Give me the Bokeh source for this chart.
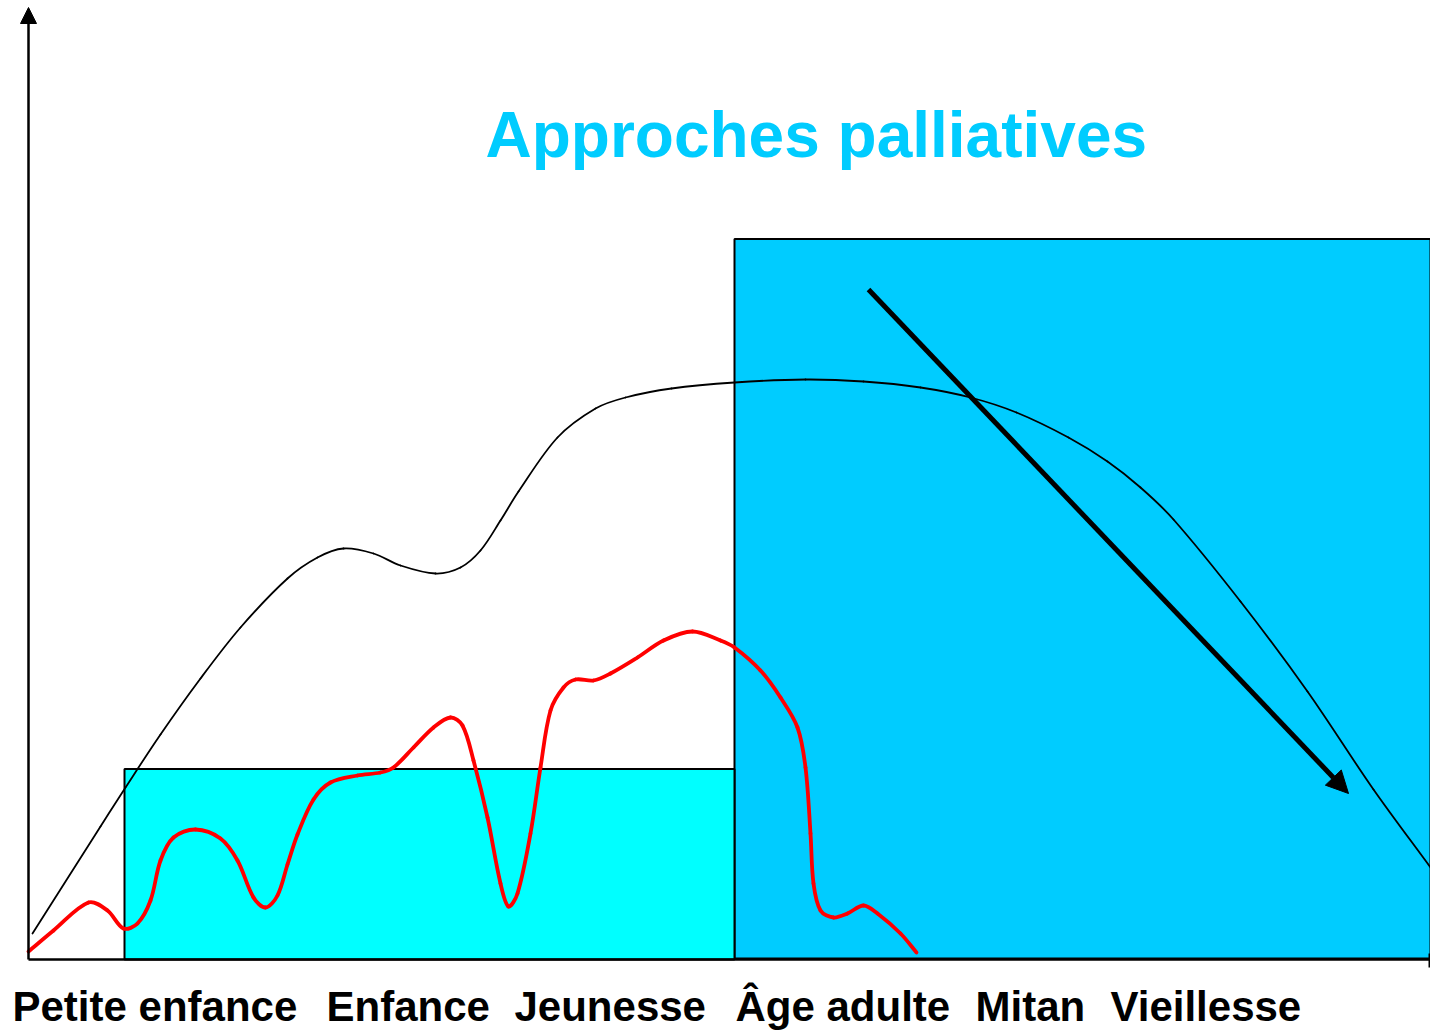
import math
from bokeh.plotting import figure
from bokeh.models import Range1d, Arrow, NormalHead
from bokeh.core.properties import value
from bokeh.embed import file_html
from bokeh.resources import INLINE

# ---- data (x: distance along life axis, y: level above the baseline) ----
stage_labels = ["Petite enfance", "Enfance", "Jeunesse", "Âge adulte", "Mitan", "Vieillesse"]
stage_label_x = [-16, 298, 486, 707, 947, 1082]

title_text = "Approches palliatives"

black_x = [4, 72, 97, 132, 172, 212, 259, 289, 315, 345, 372, 407, 432, 452, 472, 490,
           529, 567, 597, 643, 706, 777, 835, 892, 942, 988, 1040, 1079, 1112, 1145, 1212,
           1279, 1345, 1402]
black_y = [26, 133, 172, 225, 281, 332, 381, 402, 411, 406, 394, 386, 392, 409, 439, 468,
           522, 551, 562, 571, 577, 580, 578, 572, 562, 547, 522, 498, 472, 440, 358,
           268, 170, 92]

red_x = [0, 25, 60, 79, 95, 109, 122, 132, 145, 167, 192, 209, 225, 237, 249, 259, 269,
         285, 302, 329, 352, 365, 385, 405, 422, 434, 445, 459, 472, 480, 489, 502, 512,
         522, 535, 547, 565, 582, 609, 635, 664, 692, 706, 732, 752, 769, 777, 782, 785,
         792, 805, 819, 835, 849, 872, 888]
red_y = [8, 29, 57, 49, 31, 36, 59, 99, 122, 130, 121, 99, 62, 52, 64, 95, 125,
         160, 177, 184, 187, 192, 212, 232, 242, 234, 199, 142, 76, 53, 66, 126, 192,
         249, 272, 280, 279, 286, 302, 319, 328, 319, 312, 289, 262, 232, 192, 126, 76,
         49, 42, 46, 54, 46, 26, 7]

# zones: [left, right, bottom, top]
zone_curative = [96, 706, 0, 190.5]
zone_palliative = [706, 1402, 1, 720.5]

trend_start = [840, 670]
trend_end = [1320, 166]

axis_x_end = 1402
axis_y_end = 952


def smooth_segments(xs, ys):
    """Chord-length Catmull-Rom control points for Bokeh's bezier glyph."""
    n = len(xs)
    d = [math.hypot(xs[i + 1] - xs[i], ys[i + 1] - ys[i]) for i in range(n - 1)]
    tx, ty = [], []
    for i in range(n):
        if i == 0:
            tx.append((xs[1] - xs[0]) / d[0]); ty.append((ys[1] - ys[0]) / d[0])
        elif i == n - 1:
            tx.append((xs[-1] - xs[-2]) / d[-1]); ty.append((ys[-1] - ys[-2]) / d[-1])
        else:
            s = d[i - 1] + d[i]
            tx.append((xs[i + 1] - xs[i - 1]) / s); ty.append((ys[i + 1] - ys[i - 1]) / s)
    out = dict(x0=[], y0=[], x1=[], y1=[], cx0=[], cy0=[], cx1=[], cy1=[])
    for i in range(n - 1):
        h = d[i] / 3.0
        out["x0"].append(xs[i]); out["y0"].append(ys[i])
        out["x1"].append(xs[i + 1]); out["y1"].append(ys[i + 1])
        out["cx0"].append(xs[i] + tx[i] * h); out["cy0"].append(ys[i] + ty[i] * h)
        out["cx1"].append(xs[i + 1] - tx[i + 1] * h); out["cy1"].append(ys[i + 1] - ty[i + 1] * h)
    return out


p = figure(width=1430, height=1032, x_range=Range1d(-28, 1402), y_range=Range1d(-73, 959),
           output_backend="svg", toolbar_location=None, min_border=0)
p.axis.visible = False
p.grid.visible = False
p.outline_line_color = None
p.background_fill_color = "white"

# zones
p.quad(left=[zone_palliative[0]], right=[zone_palliative[1]], bottom=[zone_palliative[2]],
       top=[zone_palliative[3]], fill_color="#00CCFF", line_color="black", line_width=2)
p.quad(left=[zone_curative[0]], right=[zone_curative[1]], bottom=[zone_curative[2]],
       top=[zone_curative[3]], fill_color="#00FFFF", line_color="black", line_width=2)

# curves
bs = smooth_segments(black_x, black_y)
p.bezier(source=bs, x0="x0", y0="y0", x1="x1", y1="y1", cx0="cx0", cy0="cy0",
         cx1="cx1", cy1="cy1", line_color="black", line_width=1.8, line_cap="round")
rs = smooth_segments(red_x, red_y)
p.bezier(source=rs, x0="x0", y0="y0", x1="x1", y1="y1", cx0="cx0", cy0="cy0",
         cx1="cx1", cy1="cy1", line_color="#FF0000", line_width=3.8, line_cap="round")

# trend arrow
p.add_layout(Arrow(end=NormalHead(size=22, fill_color="black", line_color="black"),
                   x_start=trend_start[0], y_start=trend_start[1],
                   x_end=trend_end[0], y_end=trend_end[1],
                   line_color="black", line_width=5))

# axes
p.segment(x0=[0], y0=[0], x1=[axis_x_end], y1=[0], line_color="black", line_width=2.5)
p.segment(x0=[axis_x_end - 1], y0=[-8], x1=[axis_x_end - 1], y1=[6], line_color="black",
          line_width=2)
p.add_layout(Arrow(end=NormalHead(size=16, fill_color="black", line_color="black"),
                   x_start=0, y_start=0, x_end=0, y_end=axis_y_end,
                   line_color="black", line_width=2.5))

# texts
p.text(x=[457], y=[825], text=[title_text], text_font=value("Liberation Sans"),
       text_font_style="bold", text_font_size="64px", text_color="#00CCFF",
       text_align="left", text_baseline="alphabetic")
p.text(x=stage_label_x, y=[-47] * len(stage_labels), text=stage_labels,
       text_font=value("Liberation Sans"), text_font_style="bold",
       text_font_size="42px", text_color="black", text_align="left",
       text_baseline="alphabetic")

open("out.html", "w").write(file_html(p, INLINE))
